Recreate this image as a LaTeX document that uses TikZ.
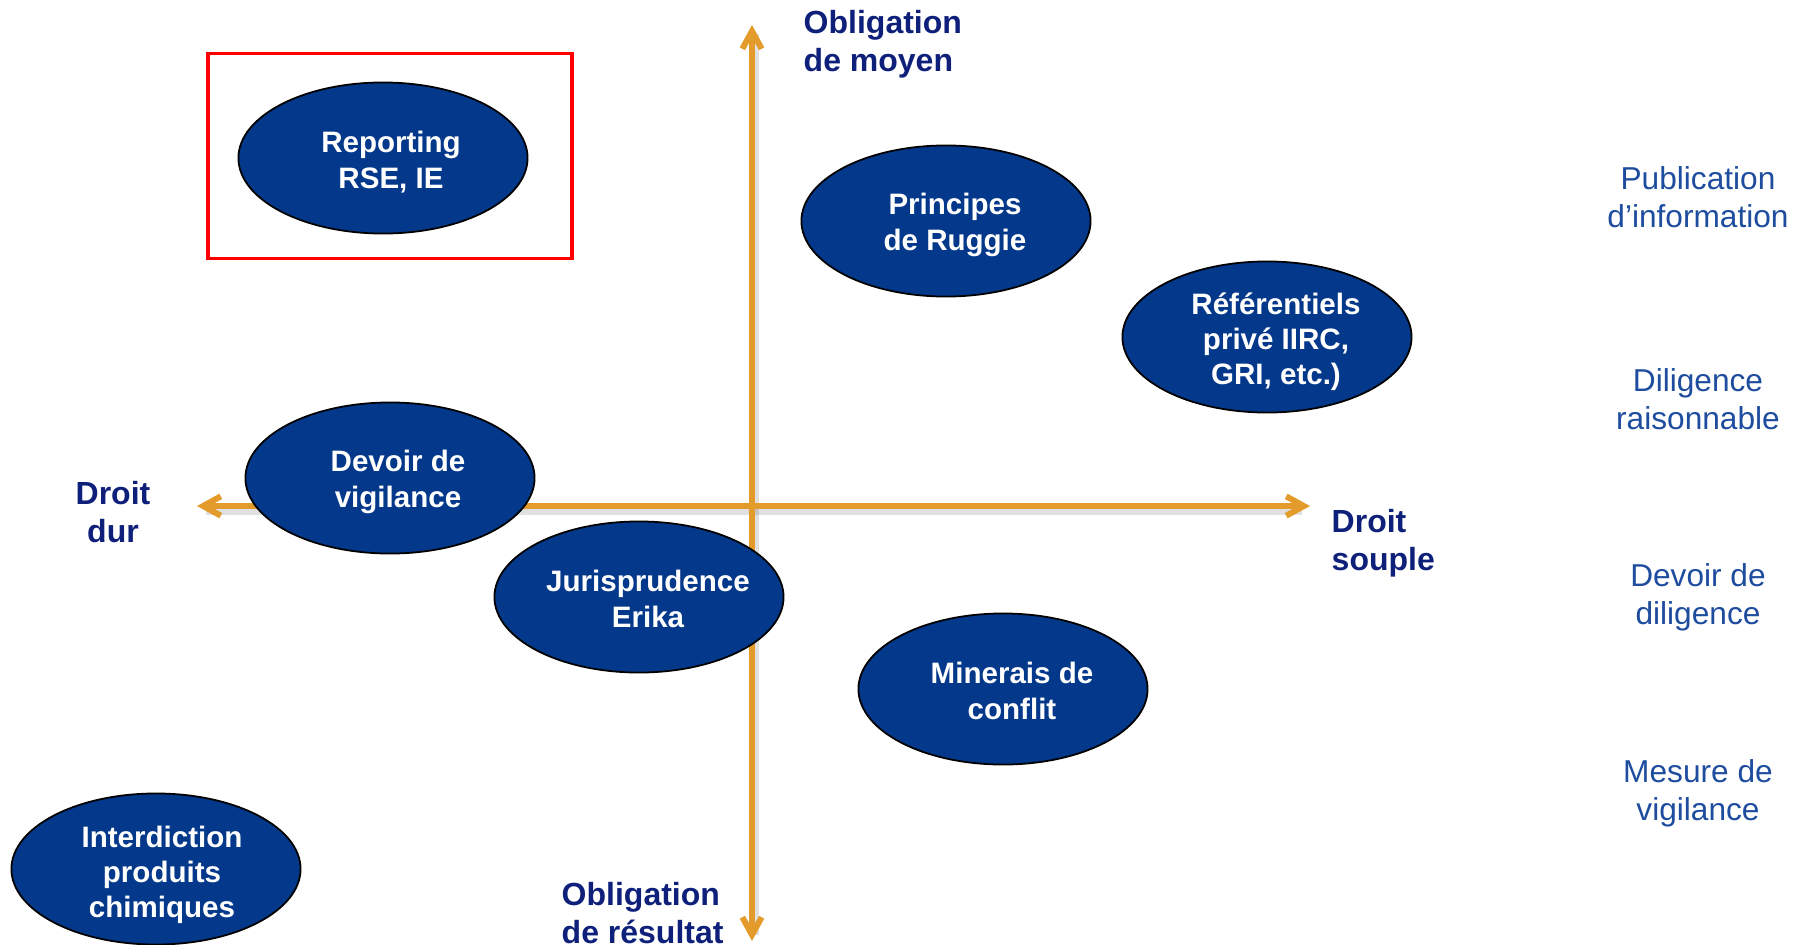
\documentclass[tikz,border=0pt]{standalone}
\usepackage{fontspec}
\setmainfont{Liberation Sans}
\usetikzlibrary{arrows.meta,shapes.geometric}
\definecolor{blobfill}{RGB}{3,56,138}
\definecolor{axisorange}{RGB}{227,155,43}
\definecolor{navy}{RGB}{14,32,122}
\definecolor{midblue}{RGB}{30,76,158}
\tikzset{
  blob/.style={ellipse, draw=black, line width=0.5pt, fill=blobfill, minimum width=2.89cm, minimum height=1.51cm, inner sep=0pt},
  blobtext/.style={text=white, font=\bfseries\fontsize{8.4}{10}\selectfont, align=center, inner sep=0pt},
  axislabel/.style={text=navy, font=\bfseries\fontsize{9.1}{10.8}\selectfont, inner sep=0pt},
  sidelabel/.style={text=midblue, font=\fontsize{9}{10.8}\selectfont, align=center, inner sep=0pt},
  axis/.style={draw=axisorange, line width=1.7pt, {Straight Barb[length=5pt,width=5.5pt]}-{Straight Barb[length=5pt,width=5.5pt]}},
  axisshadow/.style={draw=black, opacity=0.12, line width=2.6pt},
}
\begin{document}
\begin{tikzpicture}[x=0.01cm,y=-0.01cm]
\useasboundingbox (0,0) rectangle (1802,945);
% axis end points
\coordinate (L) at (197,506);
\coordinate (R) at (1310,506);
\coordinate (T) at (752,25);
\coordinate (B) at (752,941);
\coordinate (Ls) at (206,510);
\coordinate (Rs) at (1302,510);
\coordinate (Ts) at (754,34);
\coordinate (Bs) at (754,935);
% shadows
\draw[axisshadow] (Ls) -- (Rs);
\draw[axisshadow] (Ts) -- (Bs);
% axes
\draw[axis] (L) -- (R);
\draw[axis] (B) -- (T);
% red frame
\node[draw=red, line width=0.95pt, minimum width=3.64cm, minimum height=2.05cm, inner sep=0pt] (frame) at (390,156) {};
% ellipses
\node[blob] (rep) at (383,158) {};
\node[blobtext] (repT) at (391,162) {Reporting\\RSE, IE};
\node[blob] (rug) at (946,221) {};
\node[blobtext] (rugT) at (955,225) {Principes\\de Ruggie};
\node[blob] (ref) at (1267,337) {};
\node[blobtext] (refT) at (1276,342) {Référentiels\\privé IIRC,\\GRI, etc.)};
\node[blob] (dev) at (390,478) {};
\node[blobtext] (devT) at (398,482) {Devoir de\\vigilance};
\node[blob] (jur) at (639,597) {};
\node[blobtext] (jurT) at (648,599) {Jurisprudence\\Erika};
\node[blob] (min) at (1003,689) {};
\node[blobtext] (minT) at (1012,691) {Minerais de\\conflit};
\node[blob] (int) at (156,869) {};
\node[blobtext] (intT) at (162,875) {Interdiction\\produits\\chimiques};
% axis labels
\node[axislabel, anchor=west, align=left] (om) at (803,44) {Obligation\\de moyen};
\node[axislabel, align=center] (dd) at (113,512) {Droit\\dur};
\node[axislabel, anchor=west, align=left] (ds) at (1331,543) {Droit\\souple};
\node[axislabel, anchor=west, align=left] (or) at (561,913) {Obligation\\de résultat};
% side labels
\node[sidelabel] (s1) at (1698,197) {Publication\\d’information};
\node[sidelabel] (s2) at (1698,399) {Diligence\\raisonnable};
\node[sidelabel] (s3) at (1698,597) {Devoir de\\diligence};
\node[sidelabel] (s4) at (1698,793) {Mesure de\\vigilance};
\end{tikzpicture}
\end{document}
